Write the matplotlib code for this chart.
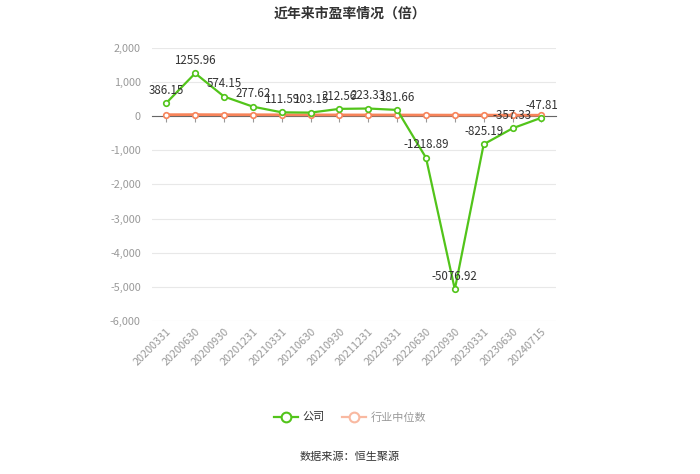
import matplotlib
matplotlib.use('Agg')
import matplotlib.pyplot as plt
from matplotlib.lines import Line2D
from matplotlib.ticker import FuncFormatter

plt.rcParams['font.family'] = ['Noto Sans CJK SC', 'DejaVu Sans']

dates = ['20200331', '20200630', '20200930', '20201231', '20210331', '20210630',
         '20210930', '20211231', '20220331', '20220630', '20220930', '20230331',
         '20230630', '20240715']
company = [386.15, 1255.96, 574.15, 277.62, 111.59, 103.15, 212.56, 223.33,
           181.66, -1218.89, -5076.92, -825.19, -357.33, -47.81]
industry = [42, 44, 41, 40, 38, 36, 35, 34, 33, 31, 29, 30, 28, 27]

green = '#52c41a'
orange = '#f7845a'

fig = plt.figure(figsize=(7, 4.74), dpi=100)
ax = fig.add_axes([0.217, 0.323, 0.577, 0.576])

x = list(range(len(dates)))
ax.plot(x, industry, color=orange, lw=2, marker='o', ms=4, mfc='white',
        mec=orange, mew=1.2, zorder=3)
ax.plot(x, company, color=green, lw=1.6, marker='o', ms=4, mfc='white',
        mec=green, mew=1.2, zorder=4)

# labels above each company point
for i, v in enumerate(company):
    ax.annotate(f'{v:.2f}', (i, v), xytext=(0, 4.5), textcoords='offset points',
                ha='center', va='bottom', fontsize=8.3, color='#333333', zorder=5)

ax.set_xlim(-0.5, len(dates) - 0.5)
ax.set_ylim(-6000, 2000)
ax.set_yticks(range(-6000, 2001, 1000))
ax.yaxis.set_major_formatter(FuncFormatter(lambda v, p: f'{int(v):,}'))
ax.tick_params(axis='y', length=0, labelsize=7.8, labelcolor='#999999', pad=8)
ax.grid(axis='y', color='#e8e8e8', lw=0.8)
ax.set_axisbelow(True)

for s in ['top', 'right', 'left']:
    ax.spines[s].set_visible(False)
ax.spines['bottom'].set_position(('data', 0))
ax.spines['bottom'].set_color('#666666')
ax.spines['bottom'].set_zorder(2)
ax.set_xticks(x)
ax.tick_params(axis='x', length=4, color='#999999', labelbottom=False)

sec = ax.secondary_xaxis('bottom')
sec.set_xticks(x)
sec.set_xticklabels(dates, rotation=45, ha='right', va='top',
                    rotation_mode='anchor', fontsize=7.8, color='#999999')
sec.tick_params(length=0, pad=4)
sec.spines['bottom'].set_visible(False)

fig.text(0.5, 0.972, '近年来市盈率情况（倍）', ha='center', va='center',
         fontsize=10, fontweight='bold', color='#333333')

handles = [
    Line2D([], [], color=green, lw=1.6, marker='o', ms=7, mfc='white', mec=green, mew=1.5),
    Line2D([], [], color='#f9b9a1', lw=1.6, marker='o', ms=7, mfc='white', mec='#f9b9a1', mew=1.5),
]
leg = fig.legend(handles, ['公司', '行业中位数'], loc='center', bbox_to_anchor=(0.5, 0.12),
                 ncol=2, frameon=False, fontsize=8, handlelength=2.2, columnspacing=1.5,
                 handletextpad=0.4)
leg.get_texts()[0].set_color('#333333')
leg.get_texts()[1].set_color('#999999')

fig.text(0.5, 0.036, '数据来源：恒生聚源', ha='center', va='center',
         fontsize=8, color='#333333')

fig.savefig('out.png', dpi=100)
